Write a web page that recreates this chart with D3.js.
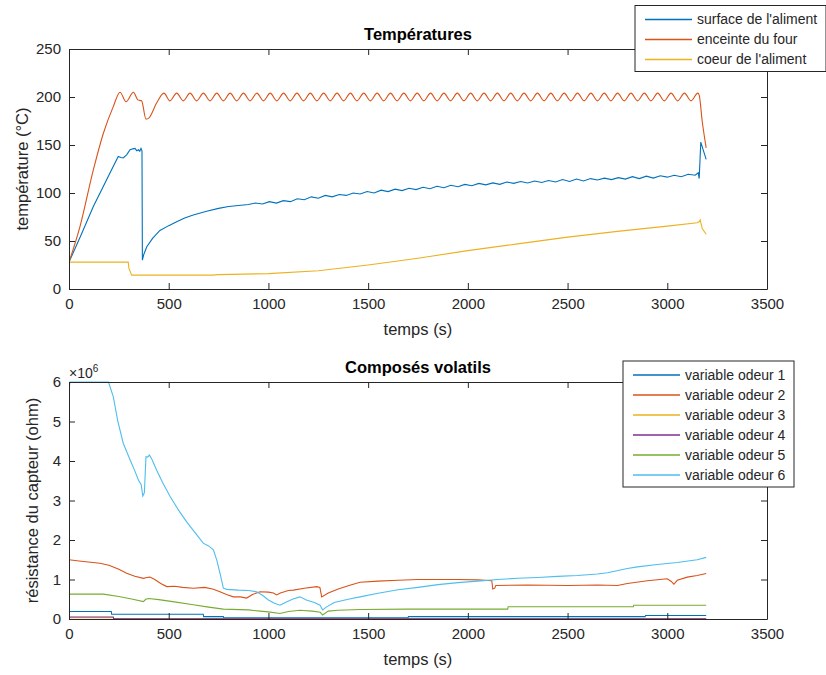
<!DOCTYPE html>
<html>
<head>
<meta charset="utf-8">
<script src="https://cdn.jsdelivr.net/npm/d3@7"></script>
<style>
  body { margin: 0; background: #fff; }
  text { font-family: "Liberation Sans", Arial, sans-serif; fill: #262626; }
</style>
</head>
<body>
<div id="chart"></div>
<script>
var xTicks = [0, 500, 1000, 1500, 2000, 2500, 3000, 3500];
var tempTicks = [0, 50, 100, 150, 200, 250];
var odorTicks = [0, 1e6, 2e6, 3e6, 4e6, 5e6, 6e6];

var tempLabels = ["surface de l'aliment", "enceinte du four", "coeur de l'aliment"];
var odorLabels = ["variable odeur 1", "variable odeur 2", "variable odeur 3",
                  "variable odeur 4", "variable odeur 5", "variable odeur 6"];

// MATLAB default colour order
var colors = ["#0072BD", "#D95319", "#EDB120", "#7E2F8E", "#77AC30", "#4DBEEE"];

var surface = [[0,28],[60,56],[122,86],[170,106],[206,121],[247,138],[260,137],[272,136.5],
  [290,140],[306,145],[320,146],[331,146.5],[340,144],[348,145],[355,143.5],[361,146.5],[366,144],
  [368,30],[375,36],[390,44],[420,53],[456,61],[500,66],[540,70],[580,74],[623,77],[690,81],
  [750,84],[800,86],[850,87],
  [900,88],[935,89.5],[970,88.5],[1005,91],[1040,89.5],[1075,92],[1110,91],[1145,94],[1180,93],
  [1215,96],[1250,94.5],[1285,97.5],[1320,96],[1355,98.5],[1390,97.5],[1425,100],[1460,99],
  [1495,101.5],[1530,100],[1565,103],[1600,101.5],[1635,104],[1670,102.5],[1705,105],[1740,103.5],
  [1775,106],[1810,104.5],[1845,107],[1880,105.5],[1915,108],[1950,106.5],[1985,109],[2020,107.5],
  [2055,110],[2090,108.5],[2125,110.5],[2160,109],[2195,111.5],[2230,110],[2265,112],[2300,110.5],
  [2335,112.5],[2370,111],[2405,113],[2440,111.5],[2475,114],[2510,112],[2545,114.5],[2580,112.5],
  [2615,115],[2650,113.5],[2685,115.5],[2720,114],[2755,116],[2790,114.5],[2825,117],[2860,115],
  [2895,117.5],[2930,115.5],[2965,118],[3000,116.5],[3035,118.5],[3070,117],[3105,119.5],
  [3140,118.5],[3155,121],[3160,115],[3168,153],[3180,145],[3195,135]];

var oven = [[0,28],[55,65],[122,124],[172,162],[222,190],[256,205],[286,195],
  [323,205],[345,197],[364,196],[386,177],[400,178],[440,194],[476,204],
  [506,196],[540,204],[573,196],[607,204],[640,196],[674,204],[707,196],[741,204],[774,196],
  [808,204],[841,196],[875,204],[908,196],[942,204],[975,196],[1009,204],[1042,196],[1076,204],
  [1109,196],[1143,204],[1176,196],[1210,204],[1243,196],[1277,204],[1310,196],[1344,204],
  [1377,196],[1411,204],[1444,196],[1478,204],[1511,196],[1545,204],[1578,196],[1612,204],
  [1645,196],[1679,204],[1712,196],[1746,204],[1779,196],[1813,204],[1846,196],[1880,204],
  [1913,196],[1947,204],[1980,196],[2014,204],[2047,196],[2081,204],[2114,196],[2148,204],
  [2181,196],[2215,204],[2248,196],[2282,204],[2315,196],[2349,204],[2382,196],[2416,204],
  [2449,196],[2483,204],[2516,196],[2550,204],[2583,196],[2617,204],[2650,196],[2684,204],
  [2717,196],[2751,204],[2784,196],[2818,204],[2851,196],[2885,204],[2918,196],[2952,204],
  [2985,196],[3019,204],[3052,196],[3086,204],[3119,196],[3153,204],[3160,202],[3175,175],[3195,147]];

var core = [[0,28],[297,28],[300,22],[314,14.5],[720,14.5],[750,15],[1000,16],[1250,19],[1500,25],
  [1750,32],[2000,40],[2250,47],[2500,54],[2750,60],[3000,65.5],[3150,69],[3160,70],[3165,72],
  [3175,63],[3195,57]];

var odor1 = [[0,0.19e6],[212,0.19e6],[214,0.12e6],[673,0.12e6],[675,0.06e6],[774,0.06e6],
  [776,0.03e6],[1700,0.03e6],[1702,0.06e6],[2889,0.06e6],[2891,0.09e6],[3195,0.09e6]];
var odor2 = [[0,1.5e6],[50,1.47e6],[155,1.41e6],[200,1.36e6],[250,1.26e6],[289,1.16e6],[330,1.08e6],
  [373,1.03e6],[390,1.05e6],[406,1.06e6],[430,1.0e6],[460,0.9e6],[490,0.82e6],[530,0.83e6],
  [570,0.8e6],[623,0.78e6],[680,0.8e6],[720,0.76e6],[757,0.69e6],[790,0.62e6],[824,0.56e6],
  [860,0.56e6],[891,0.53e6],[920,0.62e6],[958,0.69e6],[1000,0.68e6],[1025,0.66e6],[1041,0.61e6],
  [1060,0.66e6],[1100,0.72e6],[1125,0.73e6],[1180,0.78e6],[1242,0.82e6],[1258,0.8e6],[1267,0.56e6],
  [1300,0.66e6],[1350,0.76e6],[1400,0.84e6],[1459,0.93e6],[1550,0.96e6],[1650,0.98e6],
  [1750,1.0e6],[1850,1.0e6],[1950,1.0e6],[2050,0.99e6],[2120,0.97e6],[2125,0.76e6],[2135,0.78e6],
  [2140,0.85e6],[2300,0.86e6],[2500,0.85e6],[2650,0.86e6],[2750,0.85e6],[2800,0.9e6],[2900,0.97e6],
  [3000,1.02e6],[3020,0.95e6],[3033,0.88e6],[3050,0.98e6],[3100,1.06e6],[3150,1.1e6],[3195,1.15e6]];
var odor3 = [[0,0.03e6],[222,0.03e6],[224,0.005e6],[3195,0.005e6]];
var odor4 = [[0,0.05e6],[222,0.05e6],[224,0.005e6],[3195,0.005e6]];
var odor5 = [[0,0.63e6],[172,0.63e6],[250,0.57e6],[320,0.5e6],[373,0.44e6],[385,0.5e6],[400,0.52e6],
  [450,0.49e6],[520,0.44e6],[623,0.36e6],[700,0.3e6],[774,0.25e6],[900,0.23e6],[958,0.2e6],
  [1000,0.18e6],[1058,0.14e6],[1100,0.19e6],[1158,0.22e6],[1220,0.2e6],[1260,0.17e6],[1272,0.1e6],
  [1300,0.2e6],[1350,0.22e6],[1459,0.24e6],[1700,0.25e6],[2200,0.25e6],[2202,0.31e6],[2830,0.31e6],
  [2832,0.35e6],[3195,0.35e6]];
var odor6 = [[0,5.8e6],[5,6e6],[198,6e6],[222,5.63e6],[245,5.0e6],[272,4.45e6],[306,4.03e6],
  [330,3.75e6],[348,3.52e6],[362,3.4e6],[370,3.11e6],[378,3.2e6],[386,4.11e6],[395,4.1e6],
  [403,4.15e6],[415,4.05e6],[439,3.77e6],[470,3.45e6],[507,3.1e6],[550,2.75e6],[590,2.46e6],
  [630,2.2e6],[673,1.92e6],[700,1.85e6],[724,1.75e6],[741,1.49e6],[760,1.1e6],[774,0.78e6],
  [791,0.75e6],[850,0.73e6],[900,0.72e6],[941,0.69e6],[970,0.6e6],[1000,0.48e6],[1030,0.4e6],
  [1058,0.35e6],[1085,0.42e6],[1120,0.5e6],[1158,0.56e6],[1190,0.48e6],[1230,0.42e6],
  [1259,0.35e6],[1272,0.23e6],[1290,0.3e6],[1330,0.42e6],[1400,0.5e6],[1459,0.56e6],[1550,0.65e6],
  [1650,0.74e6],[1750,0.8e6],[1850,0.87e6],[1950,0.92e6],[2050,0.96e6],[2150,1.0e6],[2250,1.03e6],
  [2350,1.05e6],[2450,1.08e6],[2550,1.1e6],[2650,1.14e6],[2700,1.17e6],[2800,1.28e6],[2850,1.32e6],
  [2950,1.38e6],[3050,1.43e6],[3150,1.5e6],[3195,1.56e6]];

var width = 826, height = 675;
var axisColor = "#262626";

var svg = d3.select("#chart").append("svg")
  .attr("width", width)
  .attr("height", height);

function drawPanel(cfg){
  // one subplot : box, ticks on the four sides, lines, labels, legend
  var x = d3.scaleLinear().domain([0, 3500]).range([cfg.left, cfg.right]);
  var y = d3.scaleLinear().domain(cfg.yDomain).range([cfg.bottom, cfg.top]);
  var g = svg.append("g");

  g.append("clipPath").attr("id", cfg.id + "clip")
    .append("rect")
    .attr("x", cfg.left).attr("y", cfg.top - 1)
    .attr("width", cfg.right - cfg.left).attr("height", cfg.bottom - cfg.top + 2);

  var line = d3.line()
    .x(function(d){ return x(d[0]); })
    .y(function(d){ return y(d[1]); });

  var lines = g.append("g").attr("clip-path", "url(#" + cfg.id + "clip)");
  cfg.series.forEach(function(s, i){
    lines.append("path")
      .datum(s)
      .attr("fill", "none")
      .attr("stroke", colors[i])
      .attr("stroke-width", 1.1)
      .attr("d", line.curve(cfg.curves && cfg.curves[i] ? cfg.curves[i] : d3.curveLinear));
  });

  // axes, ticks inward like matlab
  g.append("g").attr("transform", "translate(0," + cfg.bottom + ")")
    .call(d3.axisBottom(x).tickValues(xTicks).tickSizeInner(-6).tickSizeOuter(0).tickPadding(9)
      .tickFormat(d3.format("d")));
  g.append("g").attr("transform", "translate(0," + cfg.top + ")")
    .call(d3.axisTop(x).tickValues(xTicks).tickSizeInner(-6).tickSizeOuter(0).tickFormat(""));
  g.append("g").attr("transform", "translate(" + cfg.left + ",0)")
    .call(d3.axisLeft(y).tickValues(cfg.yTicks).tickSizeInner(-6).tickSizeOuter(0).tickPadding(8)
      .tickFormat(cfg.yFormat));
  g.append("g").attr("transform", "translate(" + cfg.right + ",0)")
    .call(d3.axisRight(y).tickValues(cfg.yTicks).tickSizeInner(-6).tickSizeOuter(0).tickFormat(""));

  g.selectAll(".domain, .tick line").attr("stroke", axisColor);
  g.selectAll(".tick text")
    .attr("font-size", 15)
    .attr("font-family", "Liberation Sans, Arial, sans-serif")
    .attr("fill", axisColor);

  // title
  g.append("text")
    .attr("x", (cfg.left + cfg.right) / 2)
    .attr("y", cfg.top - 9)
    .attr("text-anchor", "middle")
    .attr("font-size", 16.5)
    .attr("font-weight", "bold")
    .style("fill", "#000")
    .text(cfg.title);

  // axis labels
  g.append("text")
    .attr("x", (cfg.left + cfg.right) / 2)
    .attr("y", cfg.bottom + 46)
    .attr("text-anchor", "middle")
    .attr("font-size", 16.5)
    .text("temps (s)");

  g.append("text")
    .attr("transform", "translate(" + cfg.yLabelX + "," + (cfg.top + cfg.bottom) / 2 + ") rotate(-90)")
    .attr("text-anchor", "middle")
    .attr("font-size", 16.5)
    .text(cfg.yLabel);

  // legend
  var lg = g.append("g");
  lg.append("rect")
    .attr("x", cfg.legend.x).attr("y", cfg.legend.y)
    .attr("width", cfg.legend.w).attr("height", cfg.legend.h)
    .attr("fill", "#fff")
    .attr("stroke", axisColor)
    .attr("stroke-width", 1);

  var items = lg.selectAll("g.item")
    .data(cfg.labels)
    .enter()
    .append("g")
    .attr("class", "item")
    .attr("transform", function(d, i){
      return "translate(" + cfg.legend.x + "," + (cfg.legend.y + cfg.legend.first + i * cfg.legend.step) + ")";
    });
  items.append("line")
    .attr("x1", 10).attr("x2", 57)
    .attr("stroke", function(d, i){ return colors[i]; })
    .attr("stroke-width", 1.3);
  items.append("text")
    .attr("x", 62)
    .attr("dy", "0.35em")
    .attr("font-size", 14)
    .text(function(d){ return d; });

  return g;
}

drawPanel({
  id: "temp",
  left: 69, right: 767, top: 49, bottom: 289,
  yDomain: [0, 250], yTicks: tempTicks,
  yFormat: d3.format("d"),
  series: [surface, oven, core],
  curves: [null, d3.curveMonotoneX, null],
  title: "Températures",
  yLabel: "température (°C)", yLabelX: 28,
  labels: tempLabels,
  legend: {x: 635, y: 5.5, w: 191, h: 66, first: 14, step: 20}
});

var bottom = drawPanel({
  id: "odor",
  left: 69, right: 767, top: 382, bottom: 619,
  yDomain: [0, 6e6], yTicks: odorTicks,
  yFormat: function(d){ return d / 1e6; },
  series: [odor1, odor2, odor3, odor4, odor5, odor6],
  title: "Composés volatils",
  yLabel: "résistance du capteur (ohm)", yLabelX: 38,
  labels: odorLabels,
  legend: {x: 623, y: 361, w: 171, h: 126, first: 14, step: 20}
});

// x10^6 multiplier
var mult = bottom.append("text")
  .attr("x", 69)
  .attr("y", 378)
  .attr("font-size", 14);
mult.append("tspan").text("\u00d710");
mult.append("tspan").attr("dy", -6).attr("font-size", 10).text("6");
</script>
</body>
</html>
